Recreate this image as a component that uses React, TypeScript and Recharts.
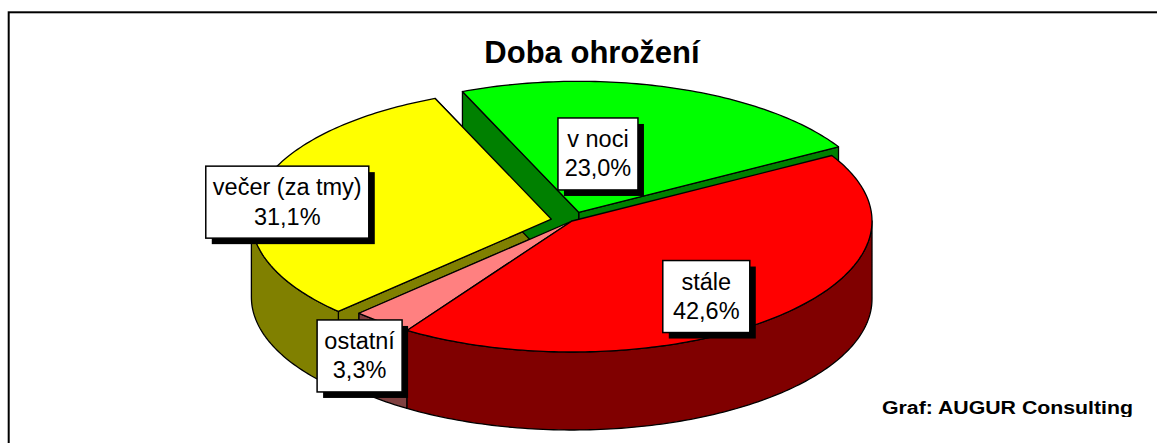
import React from "react";
import { PieChart, Pie } from "recharts";

// slices listed counter-clockwise, starting at the upper-left edge of "večer"
const categories = ["večer (za tmy)", "ostatní", "stále", "v noci"];
const shares = [31.1, 3.3, 42.6, 23.0];

const topColors = ["#FFFF00", "#FF8080", "#FF0000", "#00FF00"];
const sideColors = ["#808000", "#804040", "#800000", "#008000"];
const explode = [0.07, 0, 0, 0.07];
const labelRadius = [0.89, 1.25, 0.73, 0.45];
const labelTurn = [2.8, 4.8, -5.5, 10.4];
const labelBoxWidth = [163, 85, 87, 80];

const W = 1157;
const H = 443;
const CX = 572;
const CY = 221;
const RX = 300;
const TILT = 131 / 300;
const DEPTH = 78;
const START = -247.2;
const FONT = "'Liberation Sans', Arial, sans-serif";

const data = categories.map((name, i) => ({ name, value: shares[i] }));

const rad = (a: number) => (a * Math.PI) / 180;

// ellipse helpers for one sector (takes the exploded offset into account)
function geom(p: any) {
  const rx = p.outerRadius;
  const ry = rx * TILT;
  const e = explode[p.index] || 0;
  const ox = p.cx + e * rx * Math.cos(rad(p.midAngle));
  const oy = p.cy - e * ry * Math.sin(rad(p.midAngle));
  const at = (a: number, dy = 0): [number, number] => [
    ox + rx * Math.cos(rad(a)),
    oy - ry * Math.sin(rad(a)) + dy,
  ];
  return { rx, ry, ox, oy, at };
}

function arc(at: (a: number, dy?: number) => [number, number], a0: number, a1: number, dy = 0) {
  const n = Math.max(2, Math.ceil(Math.abs(a1 - a0)));
  const pts: [number, number][] = [];
  for (let i = 0; i <= n; i++) pts.push(at(a0 + ((a1 - a0) * i) / n, dy));
  return pts;
}

const toPath = (pts: [number, number][]) =>
  "M" + pts.map((q) => q[0].toFixed(2) + "," + q[1].toFixed(2)).join("L") + "Z";

const edge = { stroke: "#000", strokeWidth: 1.3, strokeLinejoin: "round" as const };

// radial cut faces
const renderCuts = (p: any) => {
  const g = geom(p);
  return (
    <g key={`cut-${p.index}`}>
      {[p.startAngle, p.endAngle].map((a: number, k: number) => {
        const [x, y] = g.at(a);
        const d = toPath([
          [g.ox, g.oy],
          [x, y],
          [x, y + DEPTH],
          [g.ox, g.oy + DEPTH],
        ]);
        return <path key={k} d={d} fill={sideColors[p.index]} {...edge} />;
      })}
    </g>
  );
};

// outer curved wall, only the front half is visible
const renderRim = (p: any) => {
  const g = geom(p);
  let s = Math.min(p.startAngle, p.endAngle);
  let e = Math.max(p.startAngle, p.endAngle);
  const k = Math.floor(s / 360) * 360;
  s -= k;
  e -= k;
  const parts: string[] = [];
  for (const [lo0, hi0] of [
    [180, 360],
    [540, 720],
  ]) {
    const lo = Math.max(s, lo0);
    const hi = Math.min(e, hi0);
    if (hi > lo) parts.push(toPath([...arc(g.at, lo, hi), ...arc(g.at, hi, lo, DEPTH)]));
  }
  return (
    <g key={`rim-${p.index}`}>
      {parts.map((d, j) => (
        <path key={j} d={d} fill={sideColors[p.index]} {...edge} />
      ))}
    </g>
  );
};

const renderTop = (p: any) => {
  const g = geom(p);
  const d = toPath([[g.ox, g.oy], ...arc(g.at, p.startAngle, p.endAngle)]);
  return <path key={`top-${p.index}`} d={d} fill={topColors[p.index]} {...edge} />;
};

const renderTag = (p: any) => {
  const i = p.index;
  const g = geom(p);
  const a = p.midAngle + labelTurn[i];
  const lx = g.ox + labelRadius[i] * g.rx * Math.cos(rad(a));
  const ly = g.oy - labelRadius[i] * g.ry * Math.sin(rad(a));
  const w = labelBoxWidth[i];
  const h = 72;
  const pct = shares[i].toFixed(1).replace(".", ",") + "%";
  return (
    <g key={`tag-${i}`}>
      <rect x={lx - w / 2 + 6} y={ly - h / 2 + 6} width={w} height={h} fill="#000" />
      <rect x={lx - w / 2} y={ly - h / 2} width={w} height={h} fill="#fff" stroke="#000" strokeWidth={1.5} />
      <text x={lx} y={ly - 7} textAnchor="middle" fontFamily={FONT} fontSize={23.5} fill="#000">
        {categories[i]}
      </text>
      <text x={lx} y={ly + 22.5} textAnchor="middle" fontFamily={FONT} fontSize={23.5} fill="#000">
        {pct}
      </text>
    </g>
  );
};

const layers = [renderCuts, renderRim, renderTop, renderTag];

export default function App() {
  return (
    <div style={{ position: "fixed", left: 0, top: 0, width: W, height: H, background: "#fff", overflow: "hidden" }}>
      <PieChart width={W} height={H} margin={{ top: 0, right: 0, bottom: 0, left: 0 }}>
        {layers.map((fn, n) => (
          <Pie
            key={n}
            data={data}
            dataKey="value"
            nameKey="name"
            cx={CX}
            cy={CY}
            innerRadius={0}
            outerRadius={RX}
            startAngle={START}
            endAngle={START + 360}
            fill="none"
            stroke="none"
            label={fn}
            labelLine={false}
            isAnimationActive={false}
          />
        ))}
      </PieChart>
      <svg width={W} height={H} style={{ position: "absolute", left: 0, top: 0, pointerEvents: "none" }}>
        <defs>
          <clipPath id="plotClip">
            <rect x={0} y={0} width={W} height={417} />
          </clipPath>
        </defs>
        <rect x={8.7} y={12.3} width={1300} height={600} fill="none" stroke="#000" strokeWidth={2} />
        <text x={592} y={63} textAnchor="middle" fontFamily={FONT} fontWeight="bold" fontSize={31} fill="#000">
          Doba ohrožení
        </text>
        <text
          x={882}
          y={414}
          fontFamily={FONT}
          fontWeight="bold"
          fontSize={18}
          textLength={251}
          lengthAdjust="spacingAndGlyphs"
          fill="#000"
          clipPath="url(#plotClip)"
        >
          Graf: AUGUR Consulting
        </text>
      </svg>
    </div>
  );
}
